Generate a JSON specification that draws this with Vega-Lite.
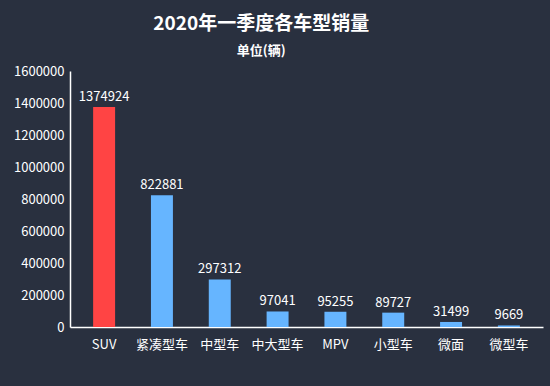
{
  "$schema": "https://vega.github.io/schema/vega-lite/v6.json",
  "width": 550,
  "height": 386,
  "autosize": {"type": "fit", "contains": "padding"},
  "padding": {"left": 13, "right": 7, "top": 15, "bottom": 35},
  "background": "#29303f",
  "title": {
    "text": "2020年一季度各车型销量",
    "subtitle": "单位(辆)",
    "font": "Noto Sans CJK SC",
    "fontSize": 19,
    "fontWeight": "bold",
    "color": "#ffffff",
    "subtitleFont": "Noto Sans CJK SC",
    "subtitleFontSize": 13,
    "subtitleFontWeight": "bold",
    "subtitleColor": "#ffffff",
    "subtitlePadding": 11,
    "anchor": "middle",
    "frame": "bounds",
    "dx": -17,
    "offset": 7
  },
  "data": {
    "values": [
      {"type": "SUV", "sales": 1374924, "hl": "SUV"},
      {"type": "紧凑型车", "sales": 822881, "hl": "other"},
      {"type": "中型车", "sales": 297312, "hl": "other"},
      {"type": "中大型车", "sales": 97041, "hl": "other"},
      {"type": "MPV", "sales": 95255, "hl": "other"},
      {"type": "小型车", "sales": 89727, "hl": "other"},
      {"type": "微面", "sales": 31499, "hl": "other"},
      {"type": "微型车", "sales": 9669, "hl": "other"}
    ]
  },
  "encoding": {
    "x": {
      "field": "type",
      "type": "nominal",
      "sort": null,
      "scale": {"paddingInner": 0.62, "paddingOuter": 0.4},
      "axis": {
        "title": null,
        "labelAngle": 0,
        "labelColor": "#ffffff",
        "labelFont": "Noto Sans CJK SC",
        "labelFontSize": 13,
        "labelPadding": 11,
        "ticks": false,
        "domainColor": "#ffffff",
        "domainWidth": 1.5,
        "grid": false
      }
    },
    "y": {
      "field": "sales",
      "type": "quantitative",
      "scale": {"domain": [0, 1600000]},
      "axis": {
        "title": null,
        "values": [0, 200000, 400000, 600000, 800000, 1000000, 1200000, 1400000, 1600000],
        "format": "d",
        "labelColor": "#ffffff",
        "labelFont": "Noto Sans CJK SC",
        "labelFontSize": 13,
        "labelPadding": 6,
        "ticks": false,
        "domainColor": "#ffffff",
        "domainWidth": 1.5,
        "grid": false
      }
    }
  },
  "layer": [
    {
      "mark": {"type": "bar"},
      "encoding": {
        "color": {
          "field": "hl",
          "type": "nominal",
          "scale": {"domain": ["SUV", "other"], "range": ["#ff4444", "#66b5ff"]},
          "legend": null
        }
      }
    },
    {
      "mark": {"type": "text", "dy": -10, "color": "#ffffff", "font": "Noto Sans CJK SC", "fontSize": 13},
      "encoding": {
        "text": {"field": "sales", "type": "quantitative", "format": "d"}
      }
    }
  ],
  "config": {"view": {"stroke": null}}
}
